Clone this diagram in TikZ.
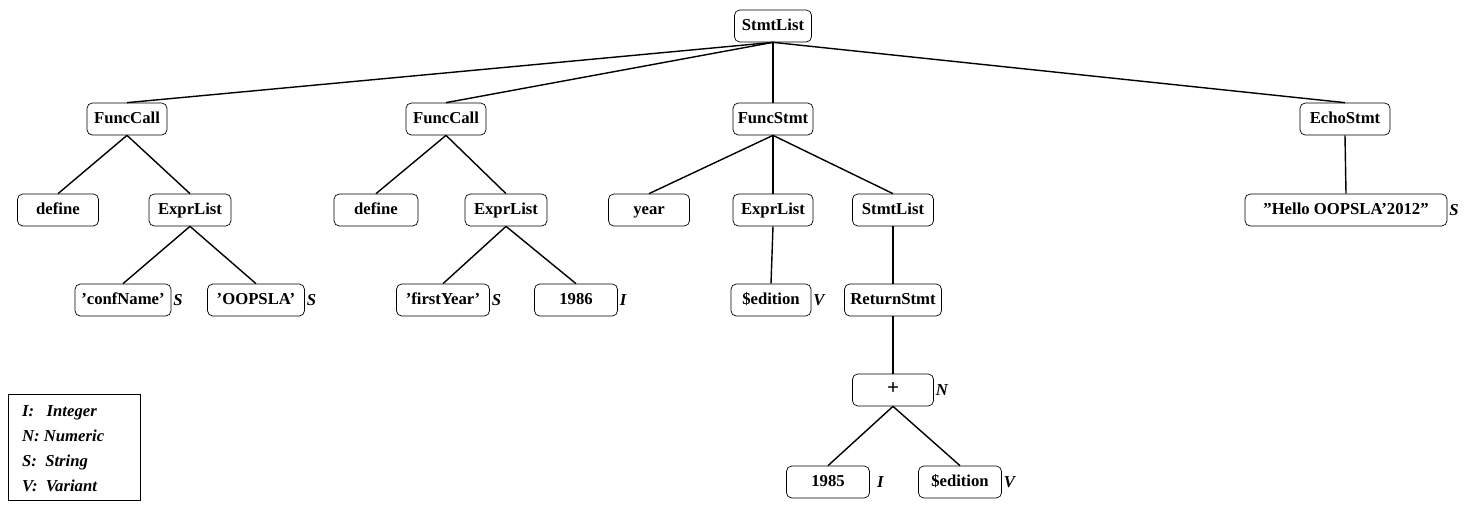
\documentclass[tikz,border=0pt]{standalone}
\usepackage{fontspec}
\setmainfont{Liberation Serif}[Ligatures=ResetAll]
\begin{document}
\begin{tikzpicture}[x=0.02cm,y=-0.02cm,
 b/.style={draw,rounded corners=3pt,minimum height=32*0.02cm,inner sep=0pt,text height=7pt,text depth=2pt,font=\fontsize{9.5}{11}\selectfont\bfseries},
 t/.style={font=\fontsize{9.5}{11}\selectfont\bfseries\itshape,anchor=west,inner sep=1pt},
 e/.style={line width=0.8pt}]
\useasboundingbox (0,0) rectangle (1468,508);
\node[b,minimum width=77*0.02cm] (r) at (773,26) {StmtList};
\node[b,minimum width=80*0.02cm] (f1) at (127,119) {FuncCall};
\node[b,minimum width=80*0.02cm] (f2) at (446,119) {FuncCall};
\node[b,minimum width=80*0.02cm] (fs) at (773,119) {FuncStmt};
\node[b,minimum width=90*0.02cm] (es) at (1345,119) {EchoStmt};
\node[b,minimum width=81*0.02cm] (d1) at (58,210) {define};
\node[b,minimum width=82*0.02cm] (x1) at (190,210) {ExprList};
\node[b,minimum width=84*0.02cm] (d2) at (376,210) {define};
\node[b,minimum width=82*0.02cm] (x2) at (506,210) {ExprList};
\node[b,minimum width=81*0.02cm] (y) at (649,210) {year};
\node[b,minimum width=80*0.02cm] (x3) at (773,210) {ExprList};
\node[b,minimum width=81*0.02cm] (s2) at (893,210) {StmtList};
\node[b,minimum width=202*0.02cm] (h) at (1346,210) {"Hello OOPSLA’2012"};
\node[b,minimum width=96*0.02cm] (c1) at (123,300) {’confName’};
\node[b,minimum width=97*0.02cm] (c2) at (256,300) {’OOPSLA’};
\node[b,minimum width=93*0.02cm] (c3) at (443,300) {’firstYear’};
\node[b,minimum width=83*0.02cm] (c4) at (576,300) {1986};
\node[b,minimum width=80*0.02cm] (c5) at (771,300) {\$edition};
\node[b,minimum width=97*0.02cm] (rs) at (893,300) {ReturnStmt};
\node[b,minimum width=81*0.02cm,font=\fontsize{12}{12}\selectfont\bfseries] (p) at (893,390) {+};
\node[b,minimum width=83*0.02cm] (n1) at (828,482) {1985};
\node[b,minimum width=83*0.02cm] (n2) at (960,482) {\$edition};
\node[t] at (h.east) {S};
\node[t] at (c1.east) {S};
\node[t] at (c2.east) {S};
\node[t] at (c3.east) {S};
\node[t] at (c4.east) {I};
\node[t] at (c5.east) {V};
\node[t] at (p.east) {N};
\node[t,xshift=3pt] at (n1.east) {I};
\node[t] at (n2.east) {V};
\foreach \a/\c in {r/f1,r/f2,r/fs,r/es,f1/d1,f1/x1,f2/d2,f2/x2,fs/y,fs/x3,fs/s2,es/h,x1/c1,x1/c2,x2/c3,x2/c4,x3/c5,s2/rs,rs/p,p/n1,p/n2}
  \draw[e] (\a.south) -- (\c.north);
\node[draw,minimum width=132*0.02cm,minimum height=106*0.02cm,inner sep=0pt] (lg) at (74,447) {};
\foreach \yy/\s in {412/{I:\ \ \ Integer},437/{N: Numeric},462/{S:\ \ String},487/{V:\ \ Variant}}
  \node[t,text height=7pt,text depth=2pt] at (20,\yy) {\s};
\end{tikzpicture}
\end{document}
